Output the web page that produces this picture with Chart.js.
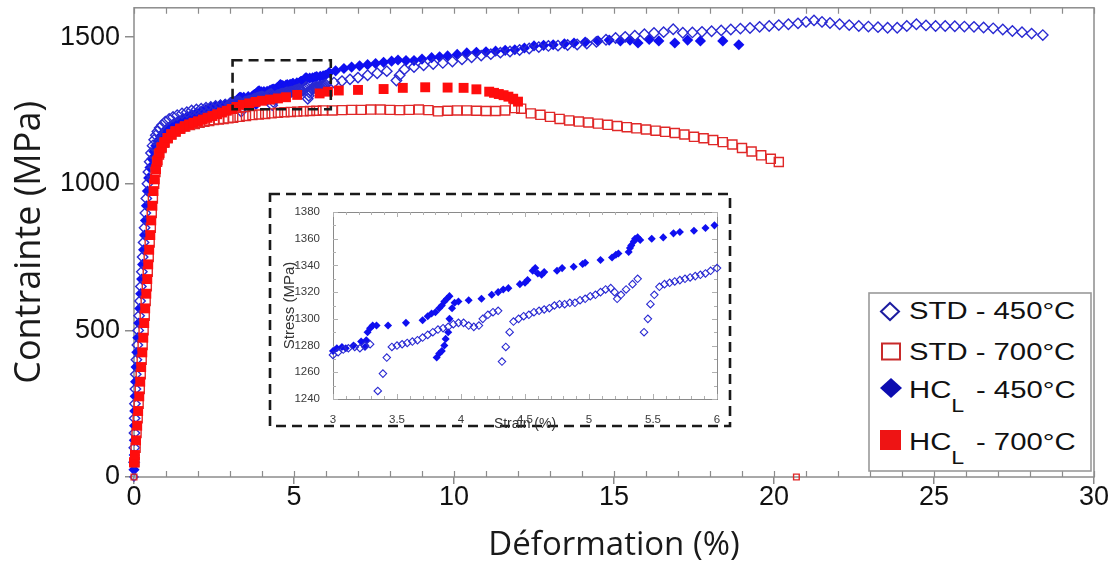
<!DOCTYPE html>
<html><head><meta charset="utf-8">
<script src="https://cdn.jsdelivr.net/npm/chart.js@4.4.1/dist/chart.umd.min.js"></script>
<style>
html,body{margin:0;padding:0;background:#fff;}
#wrap{position:relative;width:1117px;height:567px;overflow:hidden;background:#fff;}
#main{position:absolute;left:0;top:0;}
#inset{position:absolute;left:266px;top:190px;}
#legend{position:absolute;left:867px;top:291px;}
</style></head><body>
<div id="wrap">
<canvas id="main" width="1117" height="567"></canvas>
<canvas id="inset" width="468" height="250"></canvas>
<svg id="legend" width="226" height="182" xmlns="http://www.w3.org/2000/svg" font-family="Liberation Sans, Arial, sans-serif" style="white-space:pre">
  <rect x="2" y="2" width="222" height="178" fill="#fff" stroke="#9a9a9a" stroke-width="1.6"/>
  <polygon points="23,12 32,20.5 23,29 14,20.5" fill="none" stroke="#1c1ca0" stroke-width="2"/>
  <text transform="translate(42,28) scale(1.22,1)" font-size="24" fill="#111">STD - 450°C</text>
  <rect x="15" y="52.5" width="18" height="16" fill="none" stroke="#c82a2a" stroke-width="2"/>
  <text transform="translate(42,69) scale(1.22,1)" font-size="24" fill="#111">STD - 700°C</text>
  <polygon points="24,87 35,97 24,107 13,97" fill="#0c0cb0"/>
  <text transform="translate(42,107) scale(1.22,1)" font-size="24" fill="#111">HC<tspan font-size="19" dy="14">L</tspan><tspan dy="-14" dx="3"> - 450°C</tspan></text>
  <rect x="13" y="139" width="21" height="20" fill="#ee1414"/>
  <text transform="translate(42,159) scale(1.22,1)" font-size="24" fill="#111">HC<tspan font-size="19" dy="14">L</tspan><tspan dy="-14" dx="3"> - 700°C</tspan></text>
</svg>
</div>
<script>
// ---------- data ----------
const std450X = [0,0.005,0.01,0.015,0.02,0.03,0.045,0.055,0.075,0.105,0.13,0.16,0.19,0.215,0.245,0.27,0.3,0.33,0.355,0.385,0.42,0.45,0.49,0.53,0.58,0.63,0.68,0.73,0.8,0.88,0.98,1.1,1.22,1.35,1.5,1.65,1.8,1.95,2.1,2.25,2.4,2.55,2.7,2.85,
3.0,3.04,3.08,3.12,3.17,3.21,3.25,3.29,3.35,3.39,3.42,3.46,3.5,3.54,3.58,3.62,3.66,3.7,3.74,3.78,3.82,3.86,3.9,3.94,3.98,4.02,4.06,4.1,4.14,4.17,4.21,4.25,4.29,4.32,4.35,4.38,4.41,4.45,4.49,4.53,4.57,4.61,4.65,4.69,4.73,4.77,4.81,4.85,4.89,4.93,4.97,5.01,5.05,5.09,5.13,5.17,5.2,5.22,5.25,5.29,5.34,5.38,5.43,5.46,5.48,5.51,5.55,5.59,5.63,5.67,5.71,5.75,5.79,5.83,5.87,5.91,5.95,6.0,
6.25,6.5,6.75,7.0,7.3,7.6,7.9,8.2,8.3,8.45,8.75,9.05,9.35,9.65,9.95,10.25,10.55,10.85,11.15,11.45,11.75,12.05,12.35,12.65,12.95,13.25,13.55,13.85,14.15,14.45,14.75,15.05,15.35,15.65,15.95,16.25,16.55,16.85,17.15,17.45,17.75,18.05,18.35,18.65,18.95,19.25,19.55,19.85,20.15,20.45,20.75,21.0,21.25,21.5,21.75,22.05,22.35,22.65,22.95,23.25,23.55,23.85,24.15,24.45,24.75,25.05,25.35,25.65,25.95,26.25,26.55,26.85,27.15,27.45,27.75,28.05,28.4];
const std450Y = [0,50,100,150,200,250,300,350,400,450,500,550,600,650,700,750,800,850,900,950,1000,1040,1075,1105,1130,1150,1165,1178,1190,1200,1212,1221,1228,1234,1240,1244,1250,1253,1256,1259,1262,1265,1268,1270,
1273,1275,1277,1278,1279,1278,1280,1281,1246,1259,1271,1279,1280,1281,1282,1283,1284,1286,1288,1290,1292,1293,1294,1296,1297,1297,1295,1294,1295,1300,1303,1305,1306,1268,1279,1290,1298,1300,1302,1303,1305,1306,1307,1308,1310,1311,1311,1312,1312,1314,1315,1317,1318,1320,1322,1323,1320,1315,1318,1322,1326,1330,1290,1300,1311,1318,1324,1326,1327,1328,1329,1330,1331,1332,1333,1334,1336,1338,
1345,1350,1356,1362,1370,1377,1384,1352,1370,1390,1398,1404,1408,1412,1417,1424,1431,1437,1442,1447,1451,1456,1461,1466,1470,1471,1473,1475,1478,1484,1491,1497,1501,1505,1510,1514,1517,1527,1515,1516,1518,1520,1523,1526,1529,1531,1535,1538,1541,1544,1547,1552,1557,1552,1548,1544,1541,1538,1536,1534,1532,1532,1538,1544,1540,1538,1538,1537,1536,1535,1533,1530,1526,1521,1517,1512,1507];

const hc450X = [0,0.008,0.012,0.018,0.025,0.038,0.05,0.065,0.09,0.12,0.15,0.18,0.21,0.24,0.27,0.3,0.33,0.36,0.39,0.42,0.46,0.5,0.56,0.62,0.68,0.75,0.83,0.92,1.02,1.13,1.25,1.38,1.52,1.66,1.8,1.95,2.1,2.25,2.4,2.55,2.7,2.85,
3.0,3.03,3.07,3.1,3.16,3.22,3.25,3.26,3.27,3.29,3.31,3.34,3.43,3.57,3.7,3.74,3.77,3.8,3.83,3.85,3.87,3.89,3.91,3.81,3.83,3.85,3.87,3.88,3.9,3.91,3.93,3.95,3.98,4.06,4.16,4.24,4.29,4.33,4.37,4.46,4.5,4.52,4.56,4.58,4.6,4.63,4.65,4.75,4.79,4.88,4.95,4.97,5.09,5.18,5.21,5.23,5.31,5.32,5.33,5.35,5.36,5.38,5.4,5.49,5.58,5.66,5.71,5.82,5.91,5.98,
6.1,6.3,6.56,6.8,7.05,7.3,7.55,7.8,8.05,8.25,8.5,8.75,9.0,9.3,9.55,9.8,10.1,10.4,10.7,11.0,11.3,11.6,11.9,12.2,12.5,12.8,13.1,13.45,13.75,14.1,14.5,14.85,15.2,15.5,15.75,16.1,16.4,16.9,17.3,17.7,18.4,18.9];
const hc450Y = [25,75,125,175,225,275,325,375,425,475,525,575,625,675,725,775,825,875,925,975,1020,1055,1085,1110,1130,1147,1162,1175,1187,1197,1206,1214,1222,1229,1236,1242,1248,1254,1259,1264,1268,1272,
1276,1278,1279,1278,1280,1283,1279,1284,1290,1293,1295,1295,1295,1297,1299,1302,1304,1305,1308,1310,1313,1315,1317,1271,1274,1276,1280,1285,1290,1300,1308,1312,1313,1314,1315,1318,1320,1322,1323,1326,1327,1329,1336,1338,1334,1333,1335,1336,1338,1339,1341,1342,1344,1346,1348,1349,1350,1353,1355,1358,1360,1361,1359,1360,1361,1364,1365,1366,1368,1370,
1379,1385,1393,1398,1402,1406,1410,1414,1418,1422,1420,1420,1425,1430,1433,1436,1441,1446,1448,1450,1452,1455,1457,1463,1470,1472,1474,1477,1480,1483,1487,1490,1487,1490,1480,1492,1487,1480,1490,1487,1487,1474];

const std700X = [0,0.02,0.05,0.08,0.115,0.145,0.18,0.21,0.24,0.27,0.3,0.335,0.365,0.4,0.43,0.46,0.49,0.525,0.555,0.59,0.63,0.67,0.72,0.78,0.86,0.95,1.05,1.17,1.3,1.45,1.6,1.75,1.9,2.05,2.2,2.35,2.5,2.65,2.8,2.95,3.1,3.3,3.5,3.7,3.9,4.1,4.3,4.5,4.7,4.9,5.1,5.3,5.5,5.7,5.9,
6.2,6.5,6.8,7.1,7.4,7.7,8.0,8.3,8.6,8.9,9.2,9.5,9.8,10.1,10.4,10.7,11.0,11.3,11.6,11.9,12.1,12.4,12.7,13.0,13.3,13.6,13.9,14.2,14.5,14.8,15.1,15.4,15.7,16.0,16.3,16.6,16.9,17.2,17.5,17.8,18.1,18.4,18.7,19.0,19.3,19.6,19.9,20.15,20.7];
const std700Y = [0,50,100,150,200,250,300,350,400,450,500,550,600,650,700,750,800,850,900,950,1000,1040,1075,1100,1122,1140,1155,1168,1178,1188,1195,1200,1204,1208,1211,1214,1217,1219,1221,1223,1225,1228,1231,1234,1236,1238,1240,1242,1244,1245,1246,1247,1248,1249,1250,
1250,1251,1252,1252,1253,1253,1252,1251,1252,1253,1251,1247,1249,1250,1250,1249,1248,1248,1250,1258,1256,1240,1235,1228,1221,1216,1212,1209,1205,1201,1197,1193,1189,1185,1181,1177,1173,1168,1160,1155,1149,1142,1134,1122,1110,1097,1085,1074,0];

const hc700X = [0,0.03,0.065,0.1,0.13,0.165,0.195,0.225,0.26,0.29,0.32,0.35,0.385,0.415,0.445,0.475,0.51,0.54,0.575,0.61,0.65,0.69,0.74,0.8,0.87,0.96,1.06,1.17,1.3,1.44,1.58,1.72,1.86,2.0,2.15,2.3,2.45,2.6,2.75,2.9,3.05,
3.2,3.4,3.6,3.8,4.0,4.25,4.5,4.75,5.1,5.8,6.06,6.4,7.0,7.8,8.4,9.1,9.8,10.3,10.7,11.1,11.25,11.4,11.55,11.7,11.85,12.0];
const hc700Y = [50,75,125,175,225,275,325,375,425,475,525,575,625,675,725,775,825,875,925,975,1015,1050,1080,1105,1125,1142,1156,1168,1178,1187,1195,1202,1208,1213,1219,1225,1231,1237,1243,1249,1255,
1262,1269,1274,1279,1283,1287,1291,1295,1303,1308,1314,1318,1320,1323,1327,1329,1328,1327,1322,1314,1310,1306,1302,1297,1290,1280];

const xTicks = [0,5,10,15,20,25,30];
const yTicks = [0,500,1000,1500];
const insetXTicks = [3,3.5,4,4.5,5,5.5,6];
const insetYTicks = [1240,1260,1280,1300,1320,1340,1360,1380];
const zoomBoxX = [3.08, 6.15];
const zoomBoxY = [1254, 1421];
const seriesLabels = ['STD - 450°C','STD - 700°C','HCL - 450°C','HCL - 700°C'];

// ---------- helpers ----------
const pts = (xs, ys) => xs.map((x, i) => ({x: x, y: ys[i]}));
const C_STD450 = '#2a2ad2', C_HC450 = '#0f0ff0', C_STD700 = '#e02828', C_HC700 = '#ff0d0d';

function makeDatasets(scale, inset) {
  const small = ctx => (ctx.raw && ctx.raw.y === 0) ? 4 : null;
  const all = [
    {label: seriesLabels[3], data: pts(hc700X, hc700Y), pointStyle: 'rect', blue: false,
     pointRadius: 7*scale, backgroundColor: C_HC700, borderColor: C_HC700, borderWidth: 0, order: 0},
    {label: seriesLabels[1], data: pts(std700X, std700Y), pointStyle: 'rect', blue: false,
     pointRadius: ctx => small(ctx) || 6.4*scale, backgroundColor: 'rgba(255,255,255,0)', borderColor: C_STD700, borderWidth: 1.4, order: 1},
    {label: seriesLabels[0], data: pts(std450X, std450Y), pointStyle: 'rectRot', blue: true,
     pointRadius: ctx => small(ctx) || 5.2*scale, backgroundColor: 'rgba(255,255,255,0)', borderColor: C_STD450, borderWidth: inset ? 1.1 : 1.4, order: 2},
    {label: seriesLabels[2], data: pts(hc450X, hc450Y), pointStyle: 'rectRot', blue: true,
     pointRadius: 5.6*scale, backgroundColor: C_HC450, borderColor: C_HC450, borderWidth: 0, order: 3}
  ];
  return all.filter(d => !inset || d.blue)
            .map(d => { delete d.blue; return Object.assign(d, {clip: inset ? 5 : false, pointHoverRadius: d.pointRadius}); });
}

const numFmt = v => String(v);

// ---------- main chart ----------
const mainFrame = {
  id: 'mainFrame',
  beforeDatasetsDraw(chart) {
    const {ctx, chartArea: a, scales: {x}} = chart;
    ctx.save();
    ctx.strokeStyle = '#8c8c8c';
    ctx.lineWidth = 1.5;
    ctx.strokeRect(a.left, a.top, a.right - a.left, a.bottom - a.top);
    ctx.lineWidth = 1.2;
    ctx.beginPath();
    for (let v = x.min; v <= x.max + 1e-9; v += 1) {
      const px = Math.round(x.getPixelForValue(v)) + 0.5;
      ctx.moveTo(px, a.bottom); ctx.lineTo(px, a.bottom - 6);
      ctx.moveTo(px, a.top); ctx.lineTo(px, a.top + 6);
    }
    ctx.stroke();
    ctx.restore();
  },
  afterDatasetsDraw(chart) {
    const {ctx, scales: {x, y}} = chart;
    const l = x.getPixelForValue(zoomBoxX[0]), r = x.getPixelForValue(zoomBoxX[1]);
    const t = y.getPixelForValue(zoomBoxY[1]), b = y.getPixelForValue(zoomBoxY[0]);
    ctx.save();
    ctx.strokeStyle = '#1a1a1a';
    ctx.lineWidth = 2.6;
    ctx.setLineDash([10, 6]);
    ctx.strokeRect(l, t, r - l, b - t);
    ctx.restore();
  }
};

const noPadY = s => { s.paddingTop = 0; s.paddingBottom = 0; };
const noPadX = s => { s.paddingLeft = 0; s.paddingRight = 0; };

new Chart(document.getElementById('main'), {
  type: 'scatter',
  data: {datasets: makeDatasets(1, false)},
  options: {
    responsive: false, animation: false, devicePixelRatio: 1, events: [],
    layout: {padding: {left: 0, top: 5, right: 23, bottom: 0}},
    plugins: {legend: {display: false}, tooltip: {enabled: false}},
    scales: {
      x: {
        type: 'linear', min: 0, max: 30,
        afterBuildTicks: s => { s.ticks = xTicks.map(v => ({value: v})); },
        afterFit: s => { s.height = 90; noPadX(s); },
        border: {display: false},
        grid: {drawOnChartArea: false, drawTicks: true, tickLength: 7, color: '#8c8c8c', lineWidth: 1.5},
        ticks: {font: {family: 'Liberation Sans', size: 27}, color: '#111', padding: -3, maxRotation: 0, callback: numFmt},
        title: {display: true, text: 'Déformation (%)', font: {family: 'Open Sans', size: 33}, color: '#1a1a1a', padding: {top: 0, bottom: 2}}
      },
      y: {
        type: 'linear', min: 0, max: 1600,
        afterBuildTicks: s => { s.ticks = yTicks.map(v => ({value: v})); },
        afterFit: s => { s.width = 134; noPadY(s); },
        border: {display: false},
        grid: {drawOnChartArea: false, drawTicks: true, tickLength: 9, color: '#8c8c8c', lineWidth: 1.5},
        ticks: {font: {family: 'Liberation Sans', size: 27}, color: '#111', padding: 5, callback: numFmt},
        title: {display: true, text: 'Contrainte (MPa)', font: {family: 'Open Sans', size: 36}, color: '#1a1a1a', padding: {top: 8, bottom: 0}}
      }
    }
  },
  plugins: [mainFrame]
});

// ---------- inset chart ----------
const insetFrame = {
  id: 'insetFrame',
  beforeDraw(chart) {
    const {ctx} = chart;
    ctx.save();
    ctx.fillStyle = '#fff';
    ctx.fillRect(4, 4, 460, 232);
    ctx.strokeStyle = '#1a1a1a';
    ctx.lineWidth = 2.6;
    ctx.setLineDash([10, 6]);
    ctx.strokeRect(4, 4, 460, 232);
    ctx.restore();
  },
  beforeDatasetsDraw(chart) {
    const {ctx, chartArea: a, scales: {x, y}} = chart;
    ctx.save();
    ctx.strokeStyle = '#8a8a8a';
    ctx.lineWidth = 1;
    ctx.strokeRect(a.left + 0.5, a.top + 0.5, a.right - a.left, a.bottom - a.top);
    ctx.strokeStyle = '#b0b0b0';
    ctx.beginPath();
    for (let v = 3; v <= 6.0001; v += 0.1) {
      const px = Math.round(x.getPixelForValue(v)) + 0.5;
      const len = Math.abs(v * 2 - Math.round(v * 2)) < 1e-6 ? 5 : 3;
      ctx.moveTo(px, a.bottom); ctx.lineTo(px, a.bottom - len);
      ctx.moveTo(px, a.top); ctx.lineTo(px, a.top + len);
    }
    for (let v = 1240; v <= 1380; v += 10) {
      const py = Math.round(y.getPixelForValue(v)) + 0.5;
      const len = v % 20 === 0 ? 5 : 3;
      ctx.moveTo(a.left, py); ctx.lineTo(a.left + len, py);
      ctx.moveTo(a.right, py); ctx.lineTo(a.right - len, py);
    }
    ctx.stroke();
    ctx.restore();
  }
};

new Chart(document.getElementById('inset'), {
  type: 'scatter',
  data: {datasets: makeDatasets(0.72, true)},
  options: {
    responsive: false, animation: false, devicePixelRatio: 1, events: [],
    layout: {padding: {left: 0, top: 22, right: 17, bottom: 0}},
    plugins: {legend: {display: false}, tooltip: {enabled: false}},
    scales: {
      x: {
        type: 'linear', min: 3, max: 6,
        afterBuildTicks: s => { s.ticks = insetXTicks.map(v => ({value: v})); },
        afterFit: s => { s.height = 41; noPadX(s); },
        border: {display: false},
        grid: {display: false},
        ticks: {font: {family: 'Liberation Sans', size: 11.5}, color: '#3a3a3a', padding: 6, maxRotation: 0, callback: numFmt},
        title: {display: true, text: 'Strain (%)', font: {family: 'Liberation Sans', size: 14}, color: '#333', padding: {top: 0, bottom: 7}}
      },
      y: {
        type: 'linear', min: 1240, max: 1380,
        afterBuildTicks: s => { s.ticks = insetYTicks.map(v => ({value: v})); },
        afterFit: s => { s.width = 67; noPadY(s); },
        border: {display: false},
        grid: {display: false},
        ticks: {font: {family: 'Liberation Sans', size: 11.5}, color: '#3a3a3a', padding: 5, callback: numFmt},
        title: {display: true, text: 'Stress (MPa)', font: {family: 'Liberation Sans', size: 15}, color: '#333', padding: {top: 15, bottom: 0}}
      }
    }
  },
  plugins: [insetFrame]
});
</script>
</body></html>
